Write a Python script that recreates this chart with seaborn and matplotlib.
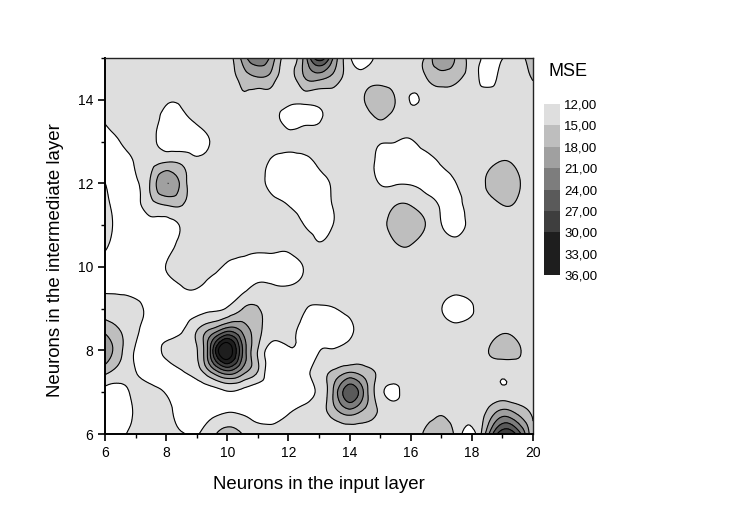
import matplotlib
matplotlib.use("Agg")
import matplotlib.pyplot as plt
import matplotlib.tri as mtri
from matplotlib.colors import ListedColormap
from matplotlib.ticker import MultipleLocator
import numpy as np
import seaborn as sns

# grid, half unit steps
input_neurons = [6, 6.5, 7, 7.5, 8, 8.5, 9, 9.5, 10, 10.5, 11, 11.5, 12, 12.5, 13, 13.5, 14, 14.5, 15, 15.5,
                 16, 16.5, 17, 17.5, 18, 18.5, 19, 19.5, 20]
hidden_neurons = [6, 6.5, 7, 7.5, 8, 8.5, 9, 9.5, 10, 10.5, 11, 11.5, 12, 12.5, 13, 13.5, 14, 14.5, 15]

row_150 = [13.5, 13.5, 13.5, 13.5, 13.5, 13.5, 13.5, 13.5, 13.5, 19, 23.5, 19, 13.5, 18.5, 29, 20, 12.5, 10, 13.5, 13.5, 13.5, 15.5, 20.5, 17.5, 13.5, 11.6, 11.9, 13.8, 17]
row_145 = [13.5, 13.5, 13.5, 13.5, 13.5, 13.5, 13.5, 13.5, 13.5, 16, 17.5, 16, 13.5, 17.5, 18.5, 16.5, 13.5, 13.5, 14, 13.5, 13.5, 14.8, 16.5, 15.5, 13.5, 11, 13, 13.5, 15.2]
row_140 = [13.5, 13.5, 13.5, 13.5, 12.3, 12.4, 13.3, 13.5, 13.5, 14.5, 13, 13.5, 12.9, 12.9, 12.9, 13.5, 13.5, 15.1, 17, 14.9, 11.85, 12.6, 13, 13.5, 13.5, 13.5, 13.5, 13.5, 13.5]
row_135 = [12.3, 13.5, 13.5, 13.3, 10.8, 11, 12.4, 13.5, 13.5, 13.5, 13.5, 13.2, 11, 11.3, 11.8, 13.5, 13.5, 13.5, 14.9, 13.5, 13, 13.5, 13.5, 13.5, 13.5, 13.5, 13.5, 13.5, 13.5]
row_130 = [10.3, 12.05, 13.5, 13, 10.6, 10.3, 10.8, 12.3, 13.5, 13.5, 13.5, 13.5, 13, 13.5, 13.5, 13.5, 13.5, 13.5, 12.3, 12.05, 11.7, 13.3, 13.5, 13.5, 13.5, 13.5, 13.5, 13.5, 13.5]
row_125 = [10.3, 10.5, 12.3, 14, 15.05, 14.6, 12.8, 13.5, 13.5, 13.5, 13.5, 11.2, 10.5, 10.8, 12.6, 13.5, 13.5, 13.2, 11.2, 10.6, 10.5, 10.8, 12.3, 13.4, 13.5, 14.2, 15.2, 14.4, 13.5]
row_120 = [12.05, 10.5, 11.5, 15.5, 20.9, 17, 13.5, 13.5, 13.5, 13.5, 13.2, 10.8, 10.3, 10.3, 10.8, 12.5, 13.5, 13.5, 11.9, 11.8, 11.8, 11, 10.5, 12.05, 13.4, 15.3, 17, 15.4, 13.5]
row_115 = [12.6, 10.8, 11, 14, 15.3, 15.2, 13.5, 13.5, 13.5, 13.5, 13.5, 12.8, 11.9, 10.8, 10.5, 12.3, 13.5, 13.5, 13.5, 14.8, 14.8, 13.3, 11.5, 10.8, 13.5, 13.8, 15.1, 14.6, 13.5]
row_110 = [13.3, 11, 10.5, 10.8, 10.5, 12.4, 13.5, 13.5, 13.5, 13.5, 13.5, 13.5, 13.5, 12.05, 10.8, 12.2, 13.5, 13.5, 13.8, 16.5, 16.5, 14.9, 12.1, 10.6, 13.2, 13.5, 13.5, 13.5, 13.5]
row_105 = [12.5, 10.5, 10.3, 10.3, 10.5, 13.1, 13.5, 13.5, 13.5, 13.2, 13, 13, 13, 13.5, 12.3, 13.5, 13.5, 13.5, 13.5, 14.6, 14.9, 13.5, 13.5, 13.2, 13.5, 13.5, 13.5, 13.5, 13.5]
row_100 = [10.5, 10.3, 10.3, 10.3, 12.1, 13.5, 13.5, 12.8, 11.5, 10.8, 10.5, 10.5, 10.5, 12.1, 13.5, 13.5, 13.5, 13.5, 13.5, 13.5, 13.5, 13.5, 13.5, 13.5, 13.5, 13.5, 13.5, 13.5, 13.5]
row_95 = [11.5, 11.3, 10.8, 10.3, 10.5, 11.8, 12.1, 11, 10.5, 11, 12.8, 12.4, 12.2, 12.7, 13.5, 13.5, 13.5, 13.5, 13.5, 13.5, 13.5, 13.5, 13.5, 13, 13.5, 13.5, 13.5, 13.5, 13.5]
row_90 = [13.5, 13.5, 13, 11, 10.5, 10.5, 10.8, 11.5, 12.3, 15, 15.2, 13.5, 13.5, 12.3, 11.6, 11.9, 13, 13.5, 13.5, 13.5, 13.5, 13.5, 12.1, 10.5, 11.7, 13.5, 13.5, 13.5, 13.5]
row_85 = [17, 14.9, 12.6, 10.5, 10.3, 11.5, 14.8, 18.5, 22.5, 20, 16, 13.5, 13.2, 10.9, 10.5, 10.5, 11.3, 13.5, 13.5, 13.5, 13.5, 13.5, 13.5, 13, 13.5, 13.5, 14.5, 14, 13.5]
row_80 = [20.5, 15.7, 11.7, 10.5, 12.8, 13.5, 14.8, 26, 35.9, 24, 14.9, 10.3, 11.5, 10.8, 11.9, 12.2, 13, 13.5, 13.5, 13.5, 13.5, 13.5, 13.5, 13.5, 13.5, 14.8, 16, 15.4, 13.5]
row_75 = [16, 13.8, 12.05, 10.5, 10.5, 11.8, 13.5, 18.8, 23.5, 19.5, 15, 9.5, 10.5, 11, 13.3, 15.5, 17.5, 16.2, 14.5, 13.5, 13.5, 13.5, 13.5, 13.5, 13.5, 13.5, 12.8, 13.5, 13.5]
row_70 = [11, 11, 12.7, 13, 11.8, 10.5, 10.5, 10.7, 11.7, 11, 9.8, 10.5, 10.5, 10.8, 12.7, 18.8, 26, 20, 13, 11.4, 13.5, 13.5, 13.5, 13.5, 13.5, 13.5, 12.9, 13, 13.5]
row_65 = [10.5, 10.5, 12.4, 13.5, 13, 10.8, 10.5, 11.3, 12.1, 11.7, 10.8, 11, 11.9, 12.8, 13.5, 16.5, 19, 16.8, 14.7, 13.5, 13.5, 13.8, 14.8, 13.5, 13, 15.5, 19.5, 17.5, 14.5]
row_60 = [10.5, 11, 13.5, 13.5, 13, 12.3, 11.8, 14, 17, 14.9, 13, 13.5, 13.5, 13.5, 13.5, 13.2, 13.2, 14.7, 14, 13.5, 13.5, 15.6, 17, 14, 10.8, 19.5, 29.5, 26, 15]

levels = [0, 12, 15, 18, 21, 24, 27, 30, 33, 36]
level_labels = ["12,00", "15,00", "18,00", "21,00", "24,00", "27,00", "30,00", "33,00", "36,00"]
band_greys = ["#ffffff", "#dedede", "#bebebe", "#a0a0a0", "#7d7d7d", "#5a5a5a", "#3e3e3e", "#1e1e1e", "#1e1e1e"]

mse = np.array([row_60, row_65, row_70, row_75, row_80, row_85, row_90, row_95, row_100, row_105,
                row_110, row_115, row_120, row_125, row_130, row_135, row_140, row_145, row_150])

sns.set_theme(style="ticks")
plt.rcParams["font.family"] = ["Liberation Sans", "DejaVu Sans"]
plt.rcParams["text.color"] = "black"

fig = plt.figure(figsize=(7.5, 5.23), dpi=100)
ax = fig.add_axes([105 / 750, 89 / 523, 428 / 750, 376 / 523])

# matplotlib's smooth contouring of the grid, the original has round contours too
xx, yy = np.meshgrid(input_neurons, hidden_neurons)
tri = mtri.Triangulation(xx.ravel(), yy.ravel())
refiner = mtri.UniformTriRefiner(tri)
fine_tri, fine_mse = refiner.refine_field(mse.ravel(), subdiv=3)
fine_mse = np.clip(fine_mse, 0.1, 35.9)

ax.tricontourf(fine_tri, fine_mse, levels=levels, colors=band_greys)
ax.tricontour(fine_tri, fine_mse, levels=levels[1:-1], colors="black", linewidths=0.8)

ax.set_xlim(6, 20)
ax.set_ylim(6, 15)
ax.xaxis.set_major_locator(MultipleLocator(2))
ax.xaxis.set_minor_locator(MultipleLocator(1))
ax.yaxis.set_major_locator(MultipleLocator(2))
ax.yaxis.set_minor_locator(MultipleLocator(1))
ax.tick_params(which="major", length=5.3, width=1.2, color="black", labelsize=10, labelcolor="black", pad=3)
ax.tick_params(which="minor", length=3, width=1.0, color="black")
ax.set_xlabel("Neurons in the input layer", fontsize=13.4, color="black", labelpad=12)
ax.set_ylabel("Neurons in the intermediate layer", fontsize=13.4, color="black")
ax.yaxis.set_label_coords(-0.095, 0.463)
for side in ["left", "bottom"]:
    ax.spines[side].set_linewidth(1.4)
    ax.spines[side].set_color("black")
for side in ["top", "right"]:
    ax.spines[side].set_linewidth(1.0)
    ax.spines[side].set_color("#222222")

# legend strip
cax = fig.add_axes([544 / 750, (523 - 275) / 523, 16 / 750, 171 / 523])
strip = np.arange(len(level_labels) - 1).reshape(-1, 1)
sns.heatmap(strip, ax=cax, cmap=ListedColormap(band_greys[1:]), cbar=False, xticklabels=False)
cax.yaxis.tick_right()
cax.set_yticks(range(len(level_labels)))
cax.set_yticklabels(level_labels, rotation=0, fontsize=9.5, color="black")
cax.tick_params(axis="y", length=0, pad=3)
fig.text(549 / 750, 1 - 72 / 523, "MSE", fontsize=13, color="black", va="center")

fig.savefig("out.png", dpi=100)
